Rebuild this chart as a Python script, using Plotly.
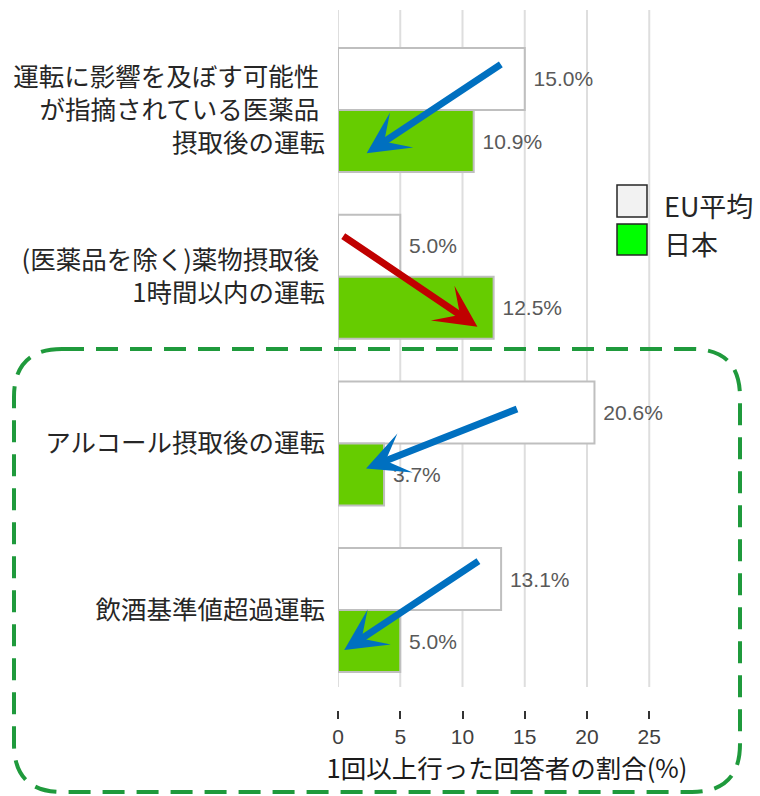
import plotly.graph_objects as go

# Survey categories (top to bottom) and share of respondents (%)
categories = [
    "運転に影響を及ぼす可能性\u00a0<br>が指摘されている医薬品\u00a0<br>摂取後の運転",
    "(医薬品を除く)薬物摂取後\u00a0<br>1時間以内の運転",
    "アルコール摂取後の運転",
    "飲酒基準値超過運転",
]
eu_avg = [15.0, 5.0, 20.6, 13.1]
japan = [10.9, 12.5, 3.7, 5.0]
series_names = ["EU平均", "日本"]
x_ticks = [0, 5, 10, 15, 20, 25]
axis_title = "1回以上行った回答者の割合(%)"

# Arrows from the EU value towards the Japan value: (tail_x, tail_cat, head_x, head_cat, color)
arrows = [
    (13.2, -0.28, 2.3, 0.26, "#0070c0"),
    (0.3, 0.75, 11.2, 1.30, "#c00000"),
    (14.5, 1.79, 2.25, 2.15, "#0070c0"),
    (11.4, 2.70, 0.5, 3.24, "#0070c0"),
]

CJK = "Noto Sans CJK JP"
LATIN = "Liberation Sans"

W, H = 760, 796
PL, PR, PT, PB = 338, 676, 10, 710  # plot area in pixels
PX_PER_UNIT = 12.45
CAT_PX = 166.7


def fx(px):
    return (px - PL) / (PR - PL)


def fy(py):
    return (PB - py) / (PB - PT)


fig = go.Figure()
fig.add_trace(go.Bar(
    y=list(range(len(categories))), x=eu_avg, orientation="h", name=series_names[0],
    marker=dict(color="#ffffff", line=dict(color="#bfbfbf", width=2)),
    texttemplate="\u00a0%{x:.1f}%", textposition="outside", cliponaxis=False,
    textfont=dict(family=LATIN, size=21, color="#595959"),
    showlegend=False,
))
fig.add_trace(go.Bar(
    y=list(range(len(categories))), x=japan, orientation="h", name=series_names[1],
    marker=dict(color="#66cc00", line=dict(color="#bfbfbf", width=2)),
    texttemplate="\u00a0%{x:.1f}%", textposition="outside", cliponaxis=False,
    textfont=dict(family=LATIN, size=21, color="#595959"),
    showlegend=False,
))

shapes = []
# vertical gridlines
for v in x_ticks:
    shapes.append(dict(type="line", xref="x", yref="paper", x0=v, x1=v,
                       y0=fy(687), y1=1, line=dict(color="#dedede", width=2), layer="below"))

# legend swatches
shapes.append(dict(type="rect", xref="paper", yref="paper",
                   x0=fx(617), x1=fx(647), y0=fy(217), y1=fy(185),
                   fillcolor="#f2f2f2", line=dict(color="#262626", width=1.5)))
shapes.append(dict(type="rect", xref="paper", yref="paper",
                   x0=fx(617), x1=fx(647), y0=fy(255), y1=fy(224),
                   fillcolor="#00ff00", line=dict(color="#262626", width=1.5)))

# dashed rounded frame around the alcohol items
L, R, T, B, r = 14, 740, 349, 792, 48
pts = [
    ("M", L + r, T), ("L", R - r, T), ("Q", R, T, R, T + r), ("L", R, B - r),
    ("Q", R, B, R - r, B), ("L", L + r, B), ("Q", L, B, L, B - r), ("L", L, T + r),
    ("Q", L, T, L + r, T),
]
path = ""
for p in pts:
    cmd, coords = p[0], p[1:]
    xy = []
    for i in range(0, len(coords), 2):
        xy.append(f"{fx(coords[i]):.5f},{fy(coords[i + 1]):.5f}")
    path += cmd + " ".join(xy) + " "
path += "Z"
shapes.append(dict(type="path", xref="paper", yref="paper", path=path,
                   line=dict(color="#1f9a3c", width=4, dash="22px,12px")))

annotations = []
for tx, ty, hx, hy, col in arrows:
    annotations.append(dict(x=hx, y=hy, ax=tx, ay=ty, xref="x", yref="y", axref="x", ayref="y",
                            text="", showarrow=True, arrowhead=3, arrowsize=1.0,
                            arrowwidth=7, arrowcolor=col))

annotations.append(dict(x=fx(662), y=fy(205), xref="paper", yref="paper", xanchor="left",
                        yanchor="middle", text=series_names[0], showarrow=False,
                        font=dict(family=CJK, size=27, color="#262626")))
annotations.append(dict(x=fx(662), y=fy(243), xref="paper", yref="paper", xanchor="left",
                        yanchor="middle", text=series_names[1], showarrow=False,
                        font=dict(family=CJK, size=27, color="#262626")))

x_max = (PR - PL) / PX_PER_UNIT
y_top = -(110 - PT) / CAT_PX
y_bot = y_top + (PB - PT) / CAT_PX

fig.update_layout(
    width=W, height=H,
    margin=dict(l=PL, r=W - PR, t=PT, b=H - PB, pad=0),
    paper_bgcolor="#ffffff", plot_bgcolor="#ffffff",
    barmode="group", bargap=0.256, bargroupgap=0,
    shapes=shapes, annotations=annotations,
    xaxis=dict(range=[0, x_max], tickvals=x_ticks, showgrid=False, zeroline=False,
               showline=False, ticks="outside", ticklen=8, tickwidth=2, tickcolor="#333333",
               tickfont=dict(family=LATIN, size=21, color="#404040"),
               title=dict(text=axis_title, standoff=6,
                          font=dict(family=CJK, size=25.5, color="#1a1a1a"))),
    yaxis=dict(range=[y_bot, y_top], tickvals=list(range(len(categories))),
               ticktext=categories, showgrid=False, zeroline=False, showline=False,
               ticks="", ticklabelstandoff=12,
               tickfont=dict(family=CJK, size=25.5, color="#262626")),
)

fig.write_html("out.html")
